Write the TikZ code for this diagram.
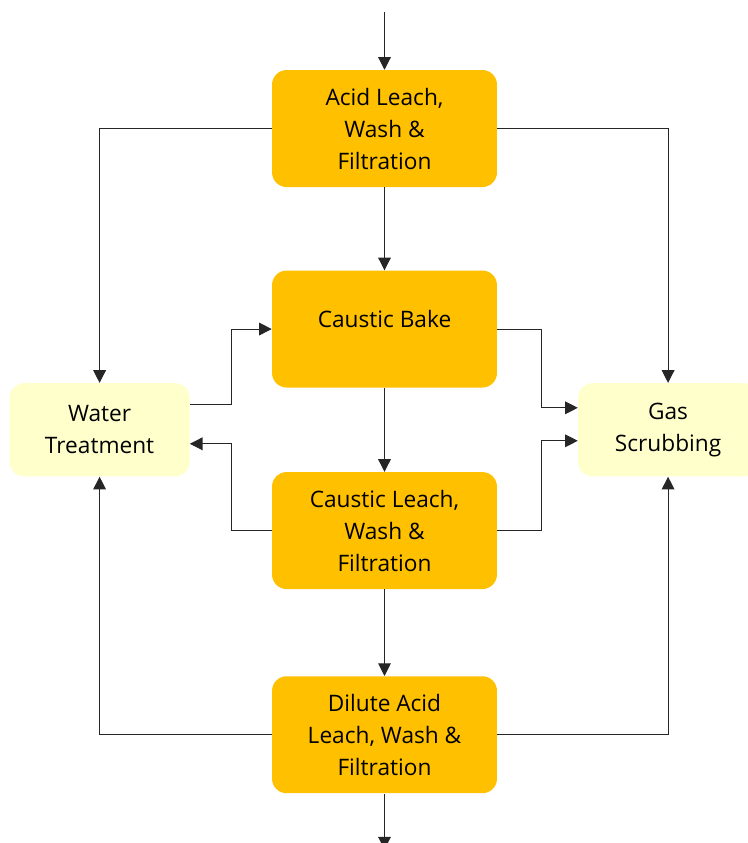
\documentclass[tikz,border=0pt]{standalone}
\usepackage{fontspec}
\setmainfont{Open Sans}
\usepackage{xcolor}
\definecolor{ProcGold}{HTML}{FFC000}
\definecolor{UtilCream}{HTML}{FFFFCC}
\definecolor{LineGrey}{HTML}{262626}
\usepackage{tikz}
\usetikzlibrary{arrows.meta, positioning, calc}
\tikzstyle{process} = [rectangle, fill=ProcGold, text=black, minimum width=168.75pt, minimum height=87.75pt, text centered, rounded corners=11pt, align=center, font=\fontsize{17pt}{24pt}\selectfont]
\tikzstyle{utility} = [rectangle, fill=UtilCream, text=black, minimum width=135pt, minimum height=70pt, text centered, rounded corners=11pt, align=center, font=\fontsize{17pt}{24pt}\selectfont]
\tikzstyle{arrow} = [-{Triangle[width=9.5pt,length=9.5pt]}, color=LineGrey, line width=0.8pt]
\tikzstyle{line} = [-, color=LineGrey, line width=0.8pt]

\begin{document}
\begin{tikzpicture}
        \useasboundingbox (-288.4pt,96.4pt) rectangle (271.9pt,-535.9pt);

        % --- main process column ---
        \node [process] (acid) at (0,0) {Acid Leach,\\ Wash \&\\ Filtration};
        \node [process, below=62.25pt of acid] (bake) {};
        \node at ([yshift=7.5pt]bake.center) [font=\fontsize{17pt}{24pt}\selectfont] (bakelbl) {Caustic Bake};
        \node [process, below=63pt of bake] (cleach) {Caustic Leach,\\ Wash \&\\ Filtration};
        \node [process, below=65pt of cleach] (dilute) {Dilute Acid\\ Leach, Wash \&\\ Filtration};

        % --- side units ---
        \coordinate (mid) at ($(bake)!0.5!(cleach)$);
        \node [utility, left=146pt of mid] (water) {Water\\ Treatment};
        \node [utility, right=145pt of mid] (gas) {Gas\\ Scrubbing};

        % feed in / product out
        \coordinate [above=43.5pt of acid.north] (feed);
        \coordinate [below=42pt of dilute.south] (product);

        % Connect process column
        \draw [arrow] (feed) -- (acid.north);
        \draw [arrow] (acid) -- (bake);
        \draw [arrow] (bake) -- (cleach);
        \draw [arrow] (cleach) -- (dilute);
        \draw [arrow] (dilute) -- (product);

        % Connect to water treatment
        \draw [arrow] (acid.west) -| (water.north);
        \draw [arrow] ([yshift=18.75pt]water.east) -- ++(31pt,0) |- (bake.west);
        \draw [arrow] (cleach.west) -- ++(-30pt,0) |- ([yshift=-10.5pt]water.east);
        \draw [arrow] (dilute.west) -| (water.south);

        % Connect to gas scrubbing
        \draw [arrow] (acid.east) -| (gas.north);
        \draw [arrow] (bake.east) -- ++(33pt,0) |- ([yshift=16.5pt]gas.west);
        \draw [arrow] (cleach.east) -- ++(33pt,0) |- ([yshift=-8.25pt]gas.west);
        \draw [arrow] (dilute.east) -| (gas.south);
    \end{tikzpicture}
\end{document}
